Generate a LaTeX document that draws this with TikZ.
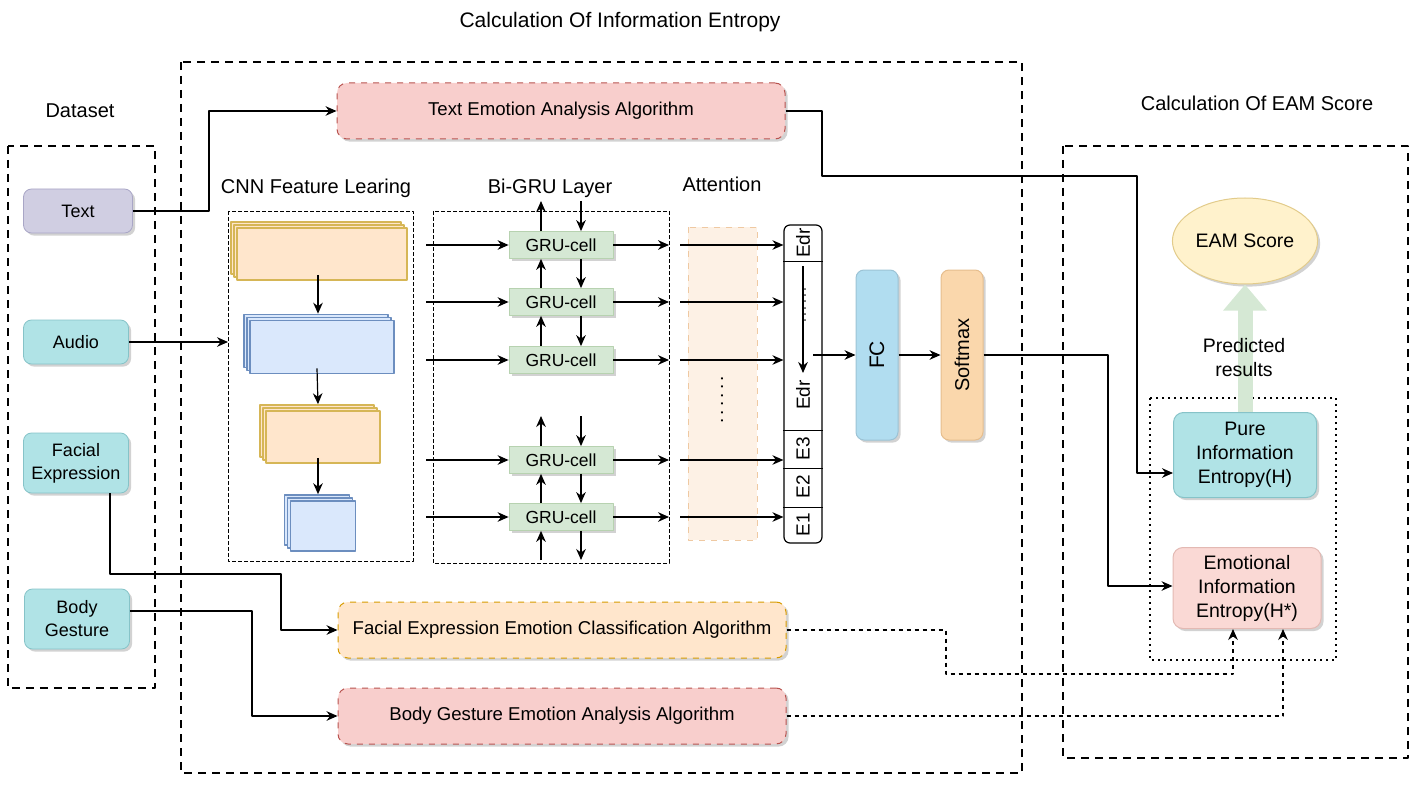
\documentclass[tikz,border=0pt]{standalone}
\usepackage{fontspec}
\setmainfont{Liberation Sans}
\usetikzlibrary{positioning,shadows,shapes.geometric,arrows.meta}
\definecolor{SrcPurple}{HTML}{D0CEE2}
\definecolor{SrcPurpleLine}{HTML}{A9A6C6}
\definecolor{SrcTeal}{HTML}{B0E3E6}
\definecolor{SrcTealLine}{HTML}{86C3C8}
\definecolor{AlgRed}{HTML}{F8CECC}
\definecolor{AlgRedLine}{HTML}{B85450}
\definecolor{AlgOrange}{HTML}{FFE6CC}
\definecolor{AlgOrangeLine}{HTML}{D79B00}
\definecolor{ConvGold}{HTML}{D6B656}
\definecolor{PoolBlue}{HTML}{DAE8FC}
\definecolor{PoolBlueLine}{HTML}{6C8EBF}
\definecolor{CellGreen}{HTML}{D5E8D4}
\definecolor{CellGreenLine}{HTML}{B7D2B0}
\definecolor{AttFill}{HTML}{FDF1E5}
\definecolor{AttLine}{HTML}{EFC9A2}
\definecolor{FcBlue}{HTML}{B1DDF0}
\definecolor{FcBlueLine}{HTML}{9CC3D5}
\definecolor{SoftOrange}{HTML}{FAD7AC}
\definecolor{SoftOrangeLine}{HTML}{E6BE8E}
\definecolor{ScoreYellow}{HTML}{FFF2CC}
\definecolor{ScoreLine}{HTML}{E2CB8A}
\definecolor{EmoPink}{HTML}{FAD9D5}
\definecolor{EmoPinkLine}{HTML}{E3B9B3}

\begin{document}
\begin{tikzpicture}[x=0.5pt,y=-0.5pt,line join=round,
  every node/.style={font=\fontsize{9.5}{11.5}\selectfont},
  title/.style={font=\fontsize{10}{12}\selectfont},
  frame/.style={line width=1.2pt,dash pattern=on 4pt off 3pt},
  subframe/.style={line width=0.4pt,dash pattern=on 2pt off 1pt},
  shade/.style={drop shadow={shadow xshift=1.3pt,shadow yshift=-1.3pt,fill=black!35,opacity=.5}},
  src/.style={shade,rounded corners=4pt,draw=SrcTealLine,fill=SrcTeal,minimum width=52.5pt,minimum height=22pt,inner sep=1pt,align=center,font=\fontsize{9}{11.5}\selectfont},
  alg/.style={shade,rounded corners=5pt,dashed,line width=0.5pt,minimum width=224pt,minimum height=28pt,font=\fontsize{9.3}{11}\selectfont},
  stack/.style={double copy shadow={shadow xshift=-1.5pt,shadow yshift=1.5pt},line width=0.8pt,inner sep=0pt},
  gru/.style={shade,draw=CellGreenLine,fill=CellGreen,minimum width=52pt,minimum height=13.5pt,inner sep=0pt,font=\fontsize{8.75}{10}\selectfont},
  tall/.style={shade,rounded corners=4pt,line width=0.5pt,minimum width=21pt,minimum height=85pt},
  result/.style={shade,rounded corners=5pt,line width=0.5pt,align=center,inner sep=1pt,font=\fontsize{9.75}{12}\selectfont},
  cell/.style={rotate=90,font=\fontsize{9.5}{10}\selectfont},
  link/.style={-{Stealth[length=5.5pt,width=4.8pt]},line width=0.6pt},
  dlink/.style={link,dash pattern=on 2pt off 2pt}]
\useasboundingbox (0,0) rectangle (1420,792);

% titles
\node[title,font=\fontsize{10.5}{12}\selectfont] (tEnt) at (620,22) {Calculation Of Information Entropy};
\node[title] (tData) at (80,111) {Dataset};
\node[title] (tEam) at (1257,103) {Calculation Of EAM Score};
\node[title] (tCnn) at (316,188) {CNN Feature Learing};
\node[title] (tGru) at (550,188) {Bi-GRU Layer};
\node[title] (tAtt) at (722,184) {Attention};

% frames
\draw[frame] (8,146) rectangle (155,688);
\draw[frame] (181,62) rectangle (1022,773);
\draw[frame] (1063,146) rectangle (1408,758);
\draw[subframe] (228,211) rectangle (413,561);
\draw[subframe] (433,211) rectangle (669,563);
\draw[AttLine,fill=AttFill,dashed,line width=0.4pt] (688,227) rectangle (757,540);
\draw[dotted,line width=1pt] (1150,398) rectangle (1336,660);

% dataset
\node[src,fill=SrcPurple,draw=SrcPurpleLine,minimum width=54.5pt] (txt) at (78,211) {Text};
\node[src] (aud) at (76,342) {Audio};
\node[src,minimum height=30pt] (fac) at (76,463) {Facial\\Expression};
\node[src,minimum height=30pt] (bod) at (77,619) {Body\\Gesture};

% algorithms
\node[alg,fill=AlgRed,draw=AlgRedLine] (talg) at (561,111) {Text Emotion Analysis Algorithm};
\node[alg,fill=AlgOrange,draw=AlgOrangeLine] (falg) at (562,630) {Facial Expression Emotion Classification Algorithm};
\node[alg,fill=AlgRed,draw=AlgRedLine] (balg) at (562,716) {Body Gesture Emotion Analysis Algorithm};

% cnn
\node[stack,fill=AlgOrange,draw=ConvGold,minimum width=85pt,minimum height=26pt] (conv1) at (322,254) {};
\node[stack,fill=PoolBlue,draw=PoolBlueLine,minimum width=72pt,minimum height=26.5pt] (pool1) at (322,347) {};
\node[stack,fill=AlgOrange,draw=ConvGold,minimum width=57pt,minimum height=26pt] (conv2) at (323,437) {};
\node[stack,fill=PoolBlue,draw=PoolBlueLine,minimum width=32.5pt,minimum height=25pt] (pool2) at (323,526) {};
\draw[link] ([xshift=-2pt,yshift=3pt]conv1.south) -- ([xshift=-2pt,yshift=3pt]pool1.north);
\draw[link] ([xshift=-2.5pt,yshift=3pt]pool1.south) -- ([xshift=-2.5pt,yshift=3pt]conv2.north);
\draw[link] ([xshift=-2.5pt,yshift=3pt]conv2.south) -- ([xshift=-2.5pt,yshift=3pt]pool2.north);

% bi-gru
\node[draw,rounded corners=3pt,line width=0.6pt,minimum width=19pt,minimum height=159pt,inner sep=0pt] (edr) at (803,384) {};
\foreach \y [count=\i] in {245,302,360,460,517}{
  \node[gru] (g\i) at (561,\y) {GRU-cell};
  \coordinate (in\i) at (426,\y);
  \coordinate (out\i) at (669,\y);
  \coordinate (att\i) at (680,\y);
  \draw[link] (in\i) -- (g\i);
  \draw[link] (g\i) -- (out\i);
  \draw[link] (att\i) -- (edr.west |- att\i);
}
\foreach \a/\b in {g1/g2,g2/g3,g4/g5}{
  \draw[link] ([xshift=-10pt]\b.north) -- ([xshift=-10pt]\a.south);
  \draw[link] ([xshift=10pt]\a.south) -- ([xshift=10pt]\b.north);
}
\coordinate (up1) at (541,201);\coordinate (dn1) at (581,201);
\coordinate (up4) at (541,416);\coordinate (dn4) at (581,416);
\coordinate (up5) at (541,560);\coordinate (dn5) at (581,560);
\draw[link] ([xshift=-10pt]g1.north) -- (up1);\draw[link] (dn1) -- ([xshift=10pt]g1.north);
\draw[link] ([xshift=-10pt]g4.north) -- (up4);\draw[link] (dn4) -- ([xshift=10pt]g4.north);
\draw[link] (up5) -- ([xshift=-10pt]g5.south);\draw[link] ([xshift=10pt]g5.south) -- (dn5);
\node[rotate=90] (attDots) at (722,400) {.\,.\,.\,.\,.\,.};

% attention output column
\foreach \y in {261,430,468,507}{\draw[line width=0.5pt] (edr.west |- 0,\y) -- (edr.east |- 0,\y);}
\node[cell] (e0) at (803,243) {Edr};
\node[cell] (en) at (803,395) {Edr};
\node[cell] (e3) at (803,449) {E3};
\node[cell] (e2) at (803,487) {E2};
\node[cell] (e1) at (803,525) {E1};
\node[rotate=90,font=\fontsize{7}{8}\selectfont] (edrDots) at (805,305) {.\,.\,.\,.\,.\,.};
\coordinate (edrTop) at (803,266);\coordinate (edrMid) at (803,373);
\draw[link] (edrTop) -- (edrMid);

% fc and softmax
\node[tall,fill=FcBlue,draw=FcBlueLine] (fc) at (877,355) {};
\node[rotate=90,font=\fontsize{10.5}{12}\selectfont] at (fc) {FC};
\node[tall,fill=SoftOrange,draw=SoftOrangeLine] (sm) at (962,355) {};
\node[rotate=90,font=\fontsize{10}{12}\selectfont] at (sm) {Softmax};
\coordinate (edrOut) at (813,355);
\draw[link] (edrOut) -- (fc.west);
\draw[link] (fc) -- (sm);

% eam score
\node[result,ellipse,fill=ScoreYellow,draw=ScoreLine,minimum width=72pt,minimum height=43pt] (eam) at (1245,241) {EAM Score};
\node[result,fill=SrcTeal,draw=SrcTealLine,minimum width=71.5pt,minimum height=42.5pt] (pure) at (1245,455) {Pure\\Information\\Entropy(H)};
\node[result,fill=EmoPink,draw=EmoPinkLine,minimum width=74pt,minimum height=40.5pt] (emo) at (1247,588) {Emotional\\Information\\Entropy(H*)};
\draw[CellGreen,line width=7.5pt,-{Triangle[length=13pt,width=21pt]}] (pure.north) -- (eam.south);
\node[align=center,font=\fontsize{9.75}{12}\selectfont] (pred) at (1244,358) {Predicted\\results};

% connectors
\draw[link] (txt.east) -- (209,211) -- (209,111) -- (talg.west);
\coordinate (cnnIn) at (228,342);
\draw[link] (aud.east) -- (cnnIn);
\draw[link] ([xshift=17pt]fac.south) -- (110,574) -- (281,574) -- (281,630) -- (falg.west);
\draw[link] ([yshift=4pt]bod.east) -- (252,611) -- (252,716) -- (balg.west);
\draw[link] (talg.east) -- (822,111) -- (822,176) -- (1137,176) -- (1137,473) -- (pure.west |- 0,473);
\draw[link] (sm.east) -- (1108,355) -- (1108,586) -- (emo.west |- 0,586);
\draw[dlink] (falg.east) -- (946,630) -- (946,674) -- (1233,674) -- ([xshift=-7pt]emo.south);
\draw[dlink] (balg.east) -- (1283,716) -- ([xshift=18pt]emo.south);
\end{tikzpicture}
\end{document}
